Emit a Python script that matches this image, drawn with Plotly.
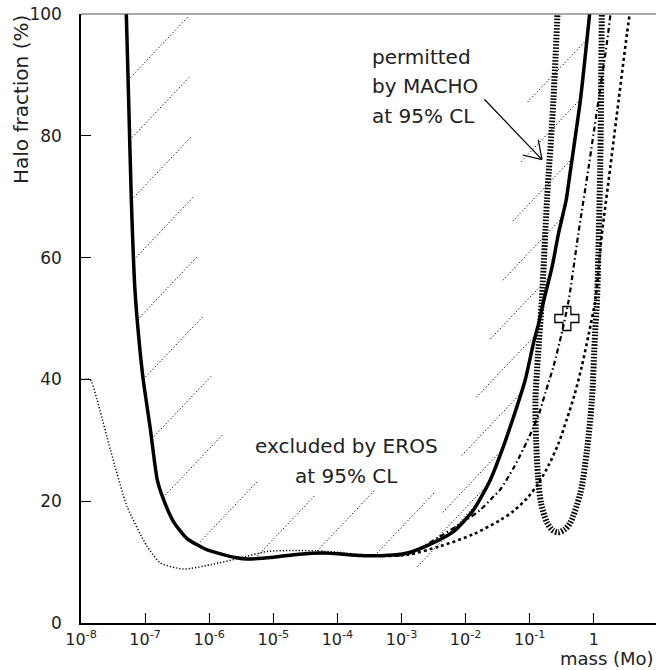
import numpy as np
import plotly.graph_objects as go

# ---------------- data (log10 of mass in solar masses, halo fraction in %) ----------------
eros_logm = [-7.293, -7.257, -7.215, -7.16, -7.10, -7.03, -6.92, -6.81, -6.71, -6.56, -6.35,
             -6.03, -5.57, -5.41, -5.0, -4.6, -4.22, -3.64, -3.33, -2.91, -2.60, -2.19,
             -1.875, -1.615, -1.41, -1.25, -1.07, -0.94, -0.86, -0.78, -0.65, -0.55,
             -0.43, -0.37, -0.21, -0.065]
eros_frac = [100, 86, 69.5, 55, 47, 40, 32, 23.5, 20.2, 16.7, 13.9,
             12.0, 10.7, 10.5, 10.8, 11.3, 11.5, 11.1, 11.05, 11.5, 12.7, 15.0,
             18.6, 23.5, 29, 33.9, 39.9, 46, 49.2, 53, 58.5, 64,
             69.5, 73.9, 85.8, 100]

dotted_logm = [-8.0, -7.86, -7.83, -7.75, -7.54, -7.28, -6.97, -6.76, -6.40, -5.98, -5.52,
               -5.1, -4.68, -4.2, -3.6, -3.0]
dotted_frac = [40, 40, 39.5, 36.7, 28.4, 19.1, 12.6, 9.85, 8.86, 9.57, 10.67,
               11.75, 11.9, 11.8, 11.2, 11.0]

dashdot_logm = [-3.3, -2.9, -2.45, -1.98, -1.77, -1.56, -1.46, -1.25, -1.15, -0.99, -0.86,
                -0.75, -0.63, -0.5, -0.39, -0.24, -0.08, 0.05, 0.21, 0.26]
dashdot_frac = [11.0, 11.3, 13.9, 17.0, 18.6, 20.8, 21.9, 25.5, 27.5, 31, 34.2,
                38, 42.1, 47.6, 53.1, 64, 74.9, 84.2, 95.7, 100]

dashed_logm = [-3.3, -2.91, -2.4, -1.875, -1.46, -1.25, -1.04, -0.86, -0.70, -0.55, -0.42,
               -0.30, -0.19, -0.08, 0.024, 0.128, 0.258, 0.388, 0.518, 0.56]
dashed_frac = [11.0, 11.2, 12.6, 14.6, 16.9, 18.4, 20.5, 23.0, 26.0, 29.5, 33.5,
               37.5, 42.0, 47.4, 53.1, 64, 74.9, 85.9, 96.8, 100]

macho_logm = [-0.55, -0.63, -0.73, -0.81, -0.87, -0.91, -0.90, -0.87, -0.82, -0.73, -0.64,
              -0.55, -0.45, -0.37, -0.21, -0.106, -0.03, 0.02, 0.05, 0.10, 0.128]
macho_frac = [104, 85.9, 69.5, 53.1, 44, 36.6, 30, 24, 19.5, 16.5, 15.2,
              14.9, 15.4, 16.4, 21.3, 28.4, 36.6, 47.6, 53.1, 74.9, 104]

best_fit_mass = [0.38]
best_fit_frac = [50]

x_tick_exps = [-8, -7, -6, -5, -4, -3, -2, -1, 0]
x_tick_text = ['10<sup>-8</sup>', '10<sup>-7</sup>', '10<sup>-6</sup>', '10<sup>-5</sup>',
               '10<sup>-4</sup>', '10<sup>-3</sup>', '10<sup>-2</sup>', '10<sup>-1</sup>', '1']
y_ticks = [0, 20, 40, 60, 80, 100]

arrow_tail = (-1.708, 86.0)   # (log10 mass, fraction)
arrow_tip = (-0.808, 76.1)

# ---------------- geometry ----------------
W, H = 656, 670
ML, MR, MT, MB = 81, 0, 14, 47
PW, PH = W - ML - MR, H - MT - MB
X_RANGE = [-8.0, -8.0 + PW / 64.1]
Y_RANGE = [0, 100]


def to_px(lm, f):
    lm = np.asarray(lm, float)
    f = np.asarray(f, float)
    px = ML + (lm - X_RANGE[0]) / (X_RANGE[1] - X_RANGE[0]) * PW
    py = MT + (Y_RANGE[1] - f) / (Y_RANGE[1] - Y_RANGE[0]) * PH
    return px, py


def from_px(px, py):
    lm = X_RANGE[0] + (px - ML) / PW * (X_RANGE[1] - X_RANGE[0])
    f = Y_RANGE[1] - (py - MT) / PH * (Y_RANGE[1] - Y_RANGE[0])
    return lm, f


def m(lms):
    return [10 ** v for v in lms]


# ---------------- hatching on the excluded side of the EROS curve ----------------
lm_a = np.array(eros_logm)
fr_a = np.array(eros_frac)
tt = np.linspace(0, len(lm_a) - 1, 4000)
dl = np.interp(tt, np.arange(len(lm_a)), lm_a)
df = np.interp(tt, np.arange(len(lm_a)), fr_a)
cpx, cpy = to_px(dl, df)
arc = np.concatenate([[0], np.cumsum(np.hypot(np.diff(cpx), np.diff(cpy)))])
SPACING, OFFSET, LENGTH = 60.0, 66.0, 88.0
ang = np.deg2rad(46.5)
d = np.array([np.cos(ang), -np.sin(ang)])
hx, hy = [], []
for sk in np.arange(OFFSET, arc[-1], SPACING):
    x0 = np.interp(sk, arc, cpx)
    y0 = np.interp(sk, arc, cpy)
    qx, qy = x0 + 4 * d[0], y0 + 4 * d[1]
    cy = np.interp(qx, cpx, cpy)
    dirn = d if qy < cy else -d
    x1, y1 = x0 + LENGTH * dirn[0], y0 + LENGTH * dirn[1]
    a_lm, a_f = from_px(x0, y0)
    b_lm, b_f = from_px(x1, y1)
    hx += [10 ** a_lm, 10 ** b_lm, None]
    hy += [a_f, b_f, None]

# ---------------- arrow ----------------
tx, ty = to_px(arrow_tail[0], arrow_tail[1])
px_, py_ = to_px(arrow_tip[0], arrow_tip[1])
u = np.array([tx - px_, ty - py_])
u = u / np.hypot(*u)
ax, ay = [10 ** arrow_tail[0], 10 ** arrow_tip[0], None], [arrow_tail[1], arrow_tip[1], None]
for sgn in (1, -1):
    th = np.deg2rad(33) * sgn
    r = np.array([u[0] * np.cos(th) - u[1] * np.sin(th), u[0] * np.sin(th) + u[1] * np.cos(th)])
    bx, by = px_ + 20 * r[0], py_ + 20 * r[1]
    blm, bf = from_px(bx, by)
    ax += [10 ** arrow_tip[0], 10 ** blm, None]
    ay += [arrow_tip[1], bf, None]

# ---------------- figure ----------------
fig = go.Figure()
fig.add_trace(go.Scatter(x=hx, y=hy, mode='lines',
                         line=dict(color='black', width=1, dash='1.2px,2.2px'), hoverinfo='skip'))
fig.add_trace(go.Scatter(x=m(dotted_logm), y=dotted_frac, mode='lines',
                         line=dict(color='black', width=1.5, dash='1.2px,2px', shape='spline', smoothing=0.6)))
fig.add_trace(go.Scatter(x=m(dashed_logm), y=dashed_frac, mode='lines',
                         line=dict(color='black', width=2.6, dash='3px,3px', shape='spline', smoothing=0.8)))
fig.add_trace(go.Scatter(x=m(dashdot_logm), y=dashdot_frac, mode='lines',
                         line=dict(color='black', width=2.2, dash='5px,3px,1.5px,3px', shape='spline', smoothing=0.8)))
fig.add_trace(go.Scatter(x=m(macho_logm), y=macho_frac, mode='lines',
                         line=dict(color='black', width=6, dash='1.6px,1.6px', shape='spline', smoothing=0.8)))
fig.add_trace(go.Scatter(x=m(eros_logm), y=eros_frac, mode='lines',
                         line=dict(color='black', width=3.5, shape='spline', smoothing=0.6)))
fig.add_trace(go.Scatter(x=best_fit_mass, y=best_fit_frac, mode='markers',
                         marker=dict(symbol='cross-open', size=20, color='black', line=dict(width=1.3))))
fig.add_trace(go.Scatter(x=ax, y=ay, mode='lines', line=dict(color='black', width=1.2)))

FONT = 'DejaVu Sans'
TXT = '#222'
ann = []
for txt, yv in (('permitted', 92.95), ('by MACHO', 88.2), ('at 95% CL', 83.3)):
    ann.append(dict(x=-3.487, y=yv, xref='x', yref='y', text=txt, showarrow=False,
                    xanchor='left', yanchor='middle', font=dict(family=FONT, size=20, color=TXT)))
for txt, yv in (('excluded by EROS', 29.0), ('at 95% CL', 24.06)):
    ann.append(dict(x=-3.861, y=yv, xref='x', yref='y', text=txt, showarrow=False,
                    xanchor='center', yanchor='middle', font=dict(family=FONT, size=20, color=TXT)))
ann.append(dict(x=(21 - ML) / PW, y=(H - MB - 100) / PH, xref='paper', yref='paper',
                text='Halo fraction (%)', textangle=-90, showarrow=False,
                xanchor='center', yanchor='middle', font=dict(family=FONT, size=20, color=TXT)))
ann.append(dict(x=1.0, y=(H - MB - 671) / PH, xref='paper', yref='paper',
                text='mass (Mo)', showarrow=False, xanchor='right', yanchor='bottom',
                font=dict(family=FONT, size=18, color=TXT)))

fig.update_layout(
    width=W, height=H, margin=dict(l=ML, r=MR, t=MT, b=MB),
    plot_bgcolor='white', paper_bgcolor='white', showlegend=False,
    annotations=ann,
    shapes=[dict(type='line', xref='paper', yref='paper', x0=0, x1=1, y0=1, y1=1,
                 line=dict(color='#555', width=1))],
    xaxis=dict(type='log', range=X_RANGE, tickvals=[10 ** e for e in x_tick_exps],
               ticktext=x_tick_text, ticks='inside', ticklen=10, tickwidth=1, tickcolor='black',
               showline=True, linecolor='black', linewidth=1.5, showgrid=False, zeroline=False,
               tickfont=dict(family=FONT, size=16, color=TXT), ticklabelstandoff=1),
    yaxis=dict(range=Y_RANGE, tickvals=y_ticks, ticks='inside', ticklen=10, tickwidth=1,
               tickcolor='black', showline=True, linecolor='black', linewidth=1.5,
               showgrid=False, zeroline=False,
               tickfont=dict(family=FONT, size=17, color=TXT), ticklabelstandoff=14),
)

fig.write_html('out.html')
